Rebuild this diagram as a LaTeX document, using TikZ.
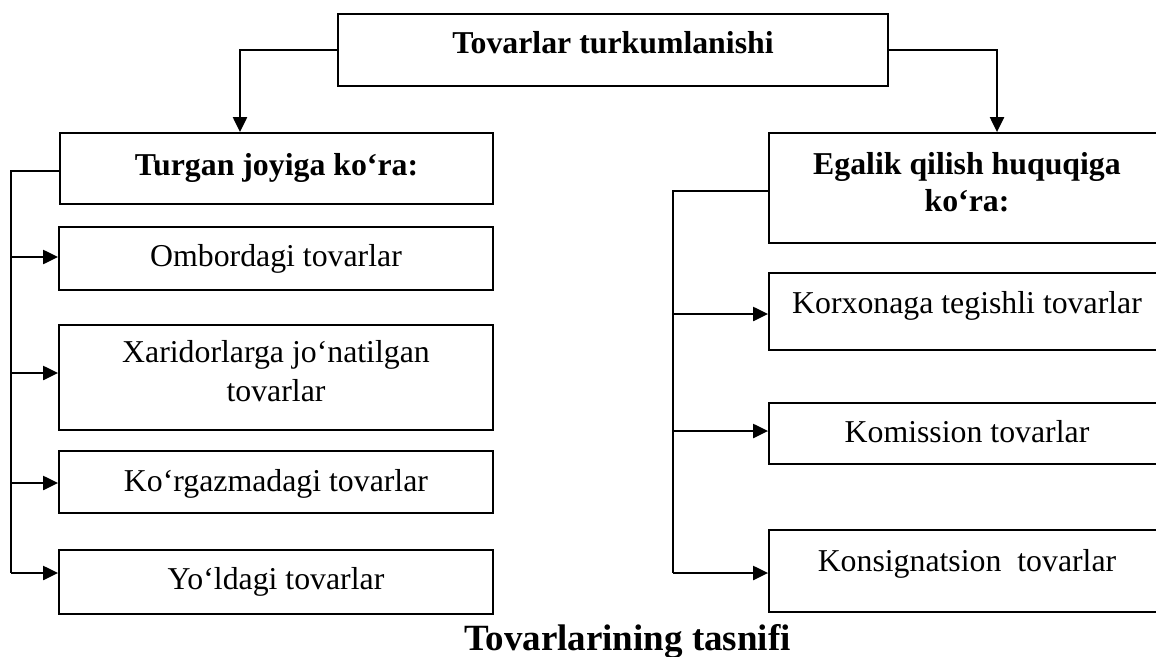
\documentclass[tikz,border=0pt]{standalone}
\usepackage{fontspec}
\setmainfont{Liberation Serif}
\usetikzlibrary{arrows.meta}
\tikzset{
  boxnode/.style={draw, line width=1.8pt, rectangle, inner sep=0pt, align=center,
    font=\fontsize{31.8}{38}\selectfont, text depth=7pt},
  hdr/.style={boxnode, font=\fontsize{31.8}{38}\selectfont\bfseries},
  conn/.style={line width=2pt},
  arr/.style={line width=2.2pt, -{Triangle[length=15pt,width=14pt]}},
}
\begin{document}
\begin{tikzpicture}[x=1pt,y=-1pt]
\useasboundingbox (0,0) rectangle (1156,656);
\clip (0,0) rectangle (1156,656);
% top
\node[hdr, minimum width=550pt, minimum height=72pt, text height=13pt] (top) at (613,50) {Tovarlar turkumlanishi};
% left column
\node[hdr, minimum width=433pt, minimum height=71pt, text height=20pt] (tl) at (276.5,168.5) {Turgan joyiga ko‘ra:};
\node[boxnode, minimum width=434pt, minimum height=63pt, text height=22pt] (l1) at (276,258.5) {Ombordagi tovarlar};
\node[boxnode, minimum width=434pt, minimum height=105pt, text height=55pt, text depth=7pt] (l2) at (276,377.5) {Xaridorlarga jo‘natilgan\\[1pt]tovarlar};
\node[boxnode, minimum width=434pt, minimum height=62pt, text height=25pt] (l3) at (276,482) {Ko‘rgazmadagi tovarlar};
\node[boxnode, minimum width=434pt, minimum height=64pt, text height=21pt] (l4) at (276,582) {Yo‘ldagi tovarlar};
% right column
\node[hdr, minimum width=396pt, minimum height=110pt, text height=53pt, text depth=7pt] (tr) at (967,188) {Egalik qilish huquqiga\\[-1pt]ko‘ra:};
\node[boxnode, minimum width=396pt, minimum height=77pt, text height=10pt] (r1) at (967,311.5) {Korxonaga tegishli tovarlar};
\node[boxnode, minimum width=396pt, minimum height=61pt, text height=24pt] (r2) at (967,433.5) {Komission tovarlar};
\node[boxnode, minimum width=396pt, minimum height=82pt, text height=7pt] (r3) at (967,571) {Konsignatsion\ \ tovarlar};
% caption
\node[anchor=base, inner sep=0pt, font=\fontsize{37}{44}\selectfont\bfseries] (cap) at (627.5,650) {Tovarlarining tasnifi};
% top connectors
\draw[arr] (top.west) -| ([xshift=-36.5pt]tl.north);
\draw[arr] (top.east) -| ([xshift=30pt]tr.north);
% left trunk
\coordinate (la1) at (11,257);
\coordinate (la2) at (11,373);
\coordinate (la3) at (11,483);
\coordinate (la4) at (11,573);
\draw[conn] ([yshift=-2.5pt]tl.west) -| (la4);
\draw[arr] (la1) -- (la1 -| l1.west);
\draw[arr] (la2) -- (la2 -| l2.west);
\draw[arr] (la3) -- (la3 -| l3.west);
\draw[arr] (la4) -- (la4 -| l4.west);
% right trunk
\coordinate (ra1) at (673,314);
\coordinate (ra2) at (673,431);
\coordinate (ra3) at (673,573);
\draw[conn] ([yshift=-3pt]tr.west) -| (ra3);
\draw[arr] (ra1) -- (ra1 -| r1.west);
\draw[arr] (ra2) -- (ra2 -| r2.west);
\draw[arr] (ra3) -- (ra3 -| r3.west);
\end{tikzpicture}
\end{document}
